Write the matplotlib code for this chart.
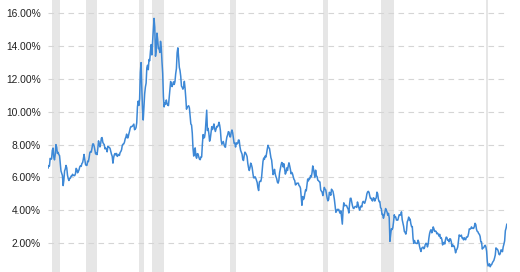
import numpy as np
import matplotlib
matplotlib.use("Agg")
import matplotlib.pyplot as plt

# monthly 10-year yield (%), June 1969 .. June 2022
start_year, start_month = 1969, 6
yield_pct = [
    6.57, 6.72, 6.69, 7.16, 7.10, 7.14, 7.65,  # 1969 (Jun-Dec)
    7.79, 7.24, 7.07, 7.39, 8.00, 7.84, 7.46, 7.53, 7.39, 7.33, 6.84, 6.39,  # 1970
    6.24, 6.11, 5.50, 5.83, 6.39, 6.52, 6.73, 6.58, 6.14, 5.93, 5.81, 5.93,  # 1971
    5.95, 6.08, 6.07, 6.19, 6.13, 6.11, 6.11, 6.21, 6.55, 6.48, 6.28, 6.36,  # 1972
    6.46, 6.64, 6.71, 6.67, 6.85, 6.90, 7.13, 7.40, 7.09, 6.79, 6.73, 6.74,  # 1973
    6.99, 6.96, 7.21, 7.51, 7.58, 7.54, 7.81, 8.04, 8.04, 7.90, 7.68, 7.43,  # 1974
    7.50, 7.39, 7.73, 8.23, 8.06, 7.86, 8.06, 8.40, 8.43, 8.14, 8.05, 8.00,  # 1975
    7.74, 7.79, 7.73, 7.56, 7.90, 7.86, 7.83, 7.77, 7.59, 7.41, 7.29, 6.87,  # 1976
    7.21, 7.39, 7.46, 7.37, 7.46, 7.28, 7.33, 7.40, 7.34, 7.52, 7.58, 7.69,  # 1977
    7.96, 8.03, 8.04, 8.15, 8.35, 8.46, 8.64, 8.41, 8.42, 8.64, 8.81, 9.01,  # 1978
    9.10, 9.10, 9.12, 9.18, 9.25, 8.91, 8.95, 9.03, 9.33, 10.30, 10.65, 10.39,  # 1979
    10.80, 12.41, 13.00, 11.47, 10.18, 9.50, 10.25, 11.10, 11.51, 11.75, 12.68, 12.84,  # 1980
    12.57, 13.19, 13.12, 13.68, 14.10, 13.47, 14.28, 14.94, 15.70, 15.15, 13.39, 13.72,  # 1981
    14.80, 14.43, 13.86, 13.87, 13.62, 14.30, 13.95, 13.06, 12.34, 10.91, 10.30, 10.54,  # 1982
    10.46, 10.72, 10.51, 10.40, 10.38, 10.85, 11.38, 11.85, 11.65, 11.54, 11.69, 11.83,  # 1983
    11.67, 11.84, 12.32, 12.63, 13.60, 13.90, 13.36, 12.72, 12.52, 12.16, 11.57, 11.50,  # 1984
    11.38, 11.51, 11.86, 11.43, 10.85, 10.16, 10.31, 10.33, 10.37, 10.24, 9.78, 9.26,  # 1985
    9.19, 8.70, 7.78, 7.30, 7.71, 7.80, 7.30, 7.17, 7.45, 7.43, 7.25, 7.11,  # 1986
    7.08, 7.25, 7.25, 8.02, 8.61, 8.40, 8.45, 8.76, 9.42, 10.10, 8.86, 8.99,  # 1987
    8.67, 8.21, 8.37, 8.72, 9.09, 8.92, 9.06, 9.26, 8.98, 8.80, 8.96, 9.11,  # 1988
    9.09, 9.17, 9.36, 9.18, 8.86, 8.28, 8.02, 8.11, 8.19, 8.01, 7.87, 7.84,  # 1989
    8.21, 8.47, 8.59, 8.79, 8.76, 8.48, 8.47, 8.75, 8.89, 8.72, 8.39, 8.08,  # 1990
    8.09, 7.85, 8.11, 8.04, 8.07, 8.28, 8.27, 7.90, 7.65, 7.53, 7.42, 7.09,  # 1991
    7.03, 7.34, 7.54, 7.48, 7.39, 7.26, 6.84, 6.59, 6.42, 6.59, 6.87, 6.77,  # 1992
    6.60, 6.26, 5.98, 5.97, 6.04, 5.96, 5.81, 5.68, 5.36, 5.20, 5.72, 5.77,  # 1993
    5.75, 5.97, 6.48, 6.97, 7.18, 7.10, 7.30, 7.24, 7.46, 7.74, 7.96, 7.81,  # 1994
    7.78, 7.47, 7.20, 7.06, 6.63, 6.17, 6.28, 6.49, 6.20, 6.04, 5.93, 5.71,  # 1995
    5.65, 5.81, 6.27, 6.51, 6.74, 6.91, 6.87, 6.64, 6.83, 6.53, 6.20, 6.30,  # 1996
    6.58, 6.42, 6.69, 6.89, 6.71, 6.49, 6.22, 6.30, 6.21, 6.03, 5.88, 5.81,  # 1997
    5.54, 5.57, 5.65, 5.64, 5.65, 5.50, 5.46, 5.34, 4.81, 4.30, 4.83, 4.65,  # 1998
    4.72, 5.00, 5.23, 5.18, 5.54, 5.90, 5.79, 5.94, 5.92, 6.11, 6.03, 6.28,  # 1999
    6.70, 6.52, 6.26, 5.99, 6.44, 6.10, 6.05, 5.83, 5.80, 5.74, 5.72, 5.24,  # 2000
    5.16, 5.10, 4.89, 5.14, 5.39, 5.28, 5.24, 4.97, 4.73, 4.57, 4.65, 5.09,  # 2001
    5.04, 4.91, 5.28, 5.21, 5.16, 4.93, 4.65, 4.26, 3.87, 3.94, 4.05, 4.03,  # 2002
    4.05, 3.90, 3.81, 3.96, 3.57, 3.15, 3.98, 4.45, 4.27, 4.29, 4.30, 4.27,  # 2003
    4.15, 4.08, 3.83, 4.35, 4.72, 4.73, 4.50, 4.28, 4.13, 4.10, 4.19, 4.23,  # 2004
    4.22, 4.17, 4.50, 4.34, 4.14, 4.00, 4.18, 4.26, 4.20, 4.46, 4.54, 4.47,  # 2005
    4.42, 4.57, 4.72, 4.99, 5.11, 5.15, 5.09, 4.88, 4.72, 4.73, 4.60, 4.56,  # 2006
    4.76, 4.72, 4.56, 4.69, 4.75, 5.10, 5.00, 4.67, 4.52, 4.53, 4.15, 4.10,  # 2007
    3.74, 3.74, 3.51, 3.68, 3.88, 4.10, 4.01, 3.89, 3.69, 3.81, 3.53, 2.10,  # 2008
    2.52, 2.87, 2.82, 2.93, 3.29, 3.72, 3.56, 3.59, 3.40, 3.39, 3.40, 3.59,  # 2009
    3.73, 3.69, 3.73, 3.90, 3.42, 3.20, 3.01, 2.70, 2.65, 2.54, 2.76, 3.29,  # 2010
    3.39, 3.58, 3.41, 3.46, 3.17, 3.00, 3.00, 2.30, 1.98, 2.15, 2.01, 1.98,  # 2011
    1.97, 1.97, 2.17, 2.05, 1.80, 1.62, 1.48, 1.68, 1.72, 1.75, 1.65, 1.72,  # 2012
    1.91, 1.98, 1.96, 1.76, 1.93, 2.30, 2.58, 2.74, 2.81, 2.62, 2.72, 2.98,  # 2013
    2.86, 2.71, 2.72, 2.71, 2.56, 2.60, 2.54, 2.42, 2.53, 2.30, 2.33, 2.21,  # 2014
    1.88, 1.98, 2.04, 1.94, 2.20, 2.36, 2.32, 2.17, 2.17, 2.07, 2.26, 2.24,  # 2015
    2.09, 1.78, 1.89, 1.81, 1.81, 1.64, 1.40, 1.56, 1.63, 1.76, 2.14, 2.49,  # 2016
    2.43, 2.42, 2.48, 2.30, 2.30, 2.19, 2.32, 2.21, 2.20, 2.36, 2.35, 2.40,  # 2017
    2.58, 2.86, 2.84, 2.87, 2.98, 2.91, 2.89, 2.89, 3.00, 3.20, 3.12, 2.83,  # 2018
    2.71, 2.68, 2.57, 2.53, 2.40, 2.07, 2.06, 1.63, 1.70, 1.71, 1.81, 1.86,  # 2019
    1.76, 1.50, 0.87, 0.60, 0.67, 0.73, 0.55, 0.65, 0.68, 0.79, 0.87, 0.93,  # 2020
    1.08, 1.26, 1.70, 1.64, 1.62, 1.52, 1.32, 1.28, 1.37, 1.58, 1.56, 1.47,  # 2021
    1.76, 1.93, 2.13, 2.75, 2.90, 3.14,  # 2022 (Jan-Jun)
]

# recession periods (decimal years)
recessions = [
    (1969.92, 1970.87), (1973.83, 1975.17), (1980.0, 1980.5),
    (1981.5, 1982.87), (1990.5, 1991.17), (2001.17, 2001.83),
    (2007.92, 2009.42), (2020.08, 2020.25),
]

yticks = [2, 4, 6, 8, 10, 12, 14, 16]

t = start_year + (start_month - 0.5 + np.arange(len(yield_pct))) / 12

fig = plt.figure(figsize=(5.2, 2.72), dpi=100)
ax = fig.add_axes([48 / 520, 0, (506.8 - 48) / 520, 1])

for a, b in recessions:
    ax.axvspan(a, b, color="#e6e6e6", lw=0, zorder=0)

ax.plot(t, yield_pct, color="#3d88d6", lw=1.1, zorder=3)

ax.set_xlim(t[0], t[-1])
ax.set_ylim(0.23, 16.82)
ax.set_yticks(yticks)
ax.set_yticklabels([f"{v:.2f}%" for v in yticks])
ax.set_xticks([])
ax.tick_params(axis="y", length=0, pad=5, labelsize=7.4, labelcolor="#222222")
for lbl in ax.get_yticklabels():
    lbl.set_fontfamily("Liberation Sans")
ax.grid(axis="y", color="#d5d5d5", lw=0.8, ls=(0, (5, 4)), zorder=1)
for s in ax.spines.values():
    s.set_visible(False)

fig.savefig("out.png", dpi=100)
